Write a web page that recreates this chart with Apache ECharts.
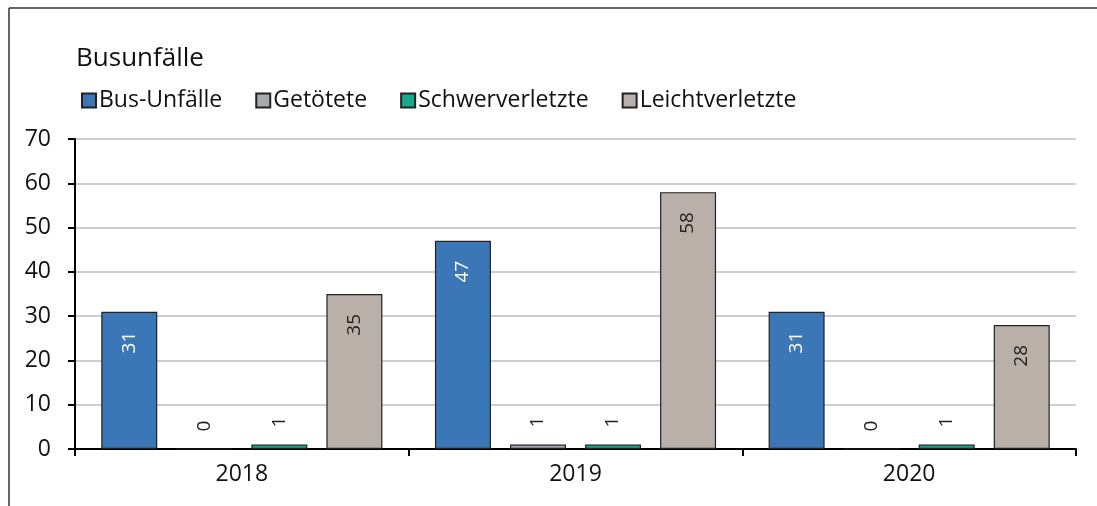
<!DOCTYPE html>
<html>
<head>
<meta charset="utf-8">
<script src="https://cdn.jsdelivr.net/npm/echarts@6/dist/echarts.min.js"></script>
<style>
  html, body { margin: 0; padding: 0; background: #fff; }
  #chart { width: 1097px; height: 506px; }
</style>
</head>
<body>
<div id="chart"></div>
<script>
const years = ['2018', '2019', '2020'];
const seriesNames = ['Bus-Unfälle', 'Getötete', 'Schwerverletzte', 'Leichtverletzte'];
const busUnfaelle = [31, 47, 31];
const getoetete = [0, 1, 0];
const schwerverletzte = [1, 1, 1];
const leichtverletzte = [35, 58, 28];
const colors = ['#3b76b6', '#a5a9b0', '#17a88b', '#b9b0aa'];
const labelColors = ['#ffffff', '#222222', '#222222', '#222222'];

const font = '"Open Sans", "Noto Sans", sans-serif';
const allData = [busUnfaelle, getoetete, schwerverletzte, leichtverletzte];

// große Balken: Label innen oben, kleine: über dem Balken
function makeData(values, idx) {
  return values.map(v => {
    if (v >= 5) {
      return {
        value: v,
        label: { position: 'insideTop', align: 'right', verticalAlign: 'middle', distance: 20, color: labelColors[idx] }
      };
    }
    return {
      value: v,
      label: { position: 'top', align: 'left', verticalAlign: 'middle', distance: 17, color: '#222' }
    };
  });
}

const chart = echarts.init(document.getElementById('chart'));
const option = {
  animation: false,
  textStyle: { fontFamily: font },
  title: {
    text: 'Busunfälle',
    left: 76,
    top: 46,
    padding: 0,
    textStyle: { fontFamily: font, fontSize: 26, fontWeight: 'normal', color: '#111' }
  },
  legend: {
    data: seriesNames,
    left: 81,
    top: 89,
    padding: 0,
    icon: 'rect',
    itemWidth: 14,
    itemHeight: 14,
    itemGap: 33,
    textStyle: { fontFamily: font, fontSize: 23, color: '#111', padding: [0, 0, 0, -2] }
  },
  grid: { left: 75, right: 21, top: 139, bottom: 57, containLabel: false },
  xAxis: {
    type: 'category',
    data: years,
    axisLine: { lineStyle: { color: '#000', width: 2 } },
    axisTick: { show: true, length: 7, lineStyle: { color: '#000', width: 2 } },
    axisLabel: { fontFamily: font, fontSize: 23, color: '#111', margin: 14 }
  },
  yAxis: {
    type: 'value',
    min: 0,
    max: 70,
    interval: 10,
    axisLine: { show: true, lineStyle: { color: '#000', width: 2 } },
    axisTick: { show: true, length: 7, lineStyle: { color: '#000', width: 2 } },
    axisLabel: { fontFamily: font, fontSize: 23, color: '#111', margin: 24 },
    splitLine: { lineStyle: { color: '#b9bfc7', width: 1.5 } }
  },
  graphic: [
    { type: 'line', shape: { x1: 9, y1: 8, x2: 1097, y2: 8 }, style: { stroke: '#333', lineWidth: 1.5 } },
    { type: 'line', shape: { x1: 9, y1: 8, x2: 9, y2: 506 }, style: { stroke: '#333', lineWidth: 1.5 } }
  ],
  series: seriesNames.map((name, i) => ({
    name: name,
    type: 'bar',
    data: makeData(allData[i], i),
    barWidth: 56,
    barGap: '34%',
    itemStyle: { color: colors[i], borderColor: '#222', borderWidth: 1.2 },
    label: {
      show: true,
      rotate: 90,
      fontFamily: font,
      fontSize: 19
    }
  }))
};
chart.setOption(option);
</script>
</body>
</html>
